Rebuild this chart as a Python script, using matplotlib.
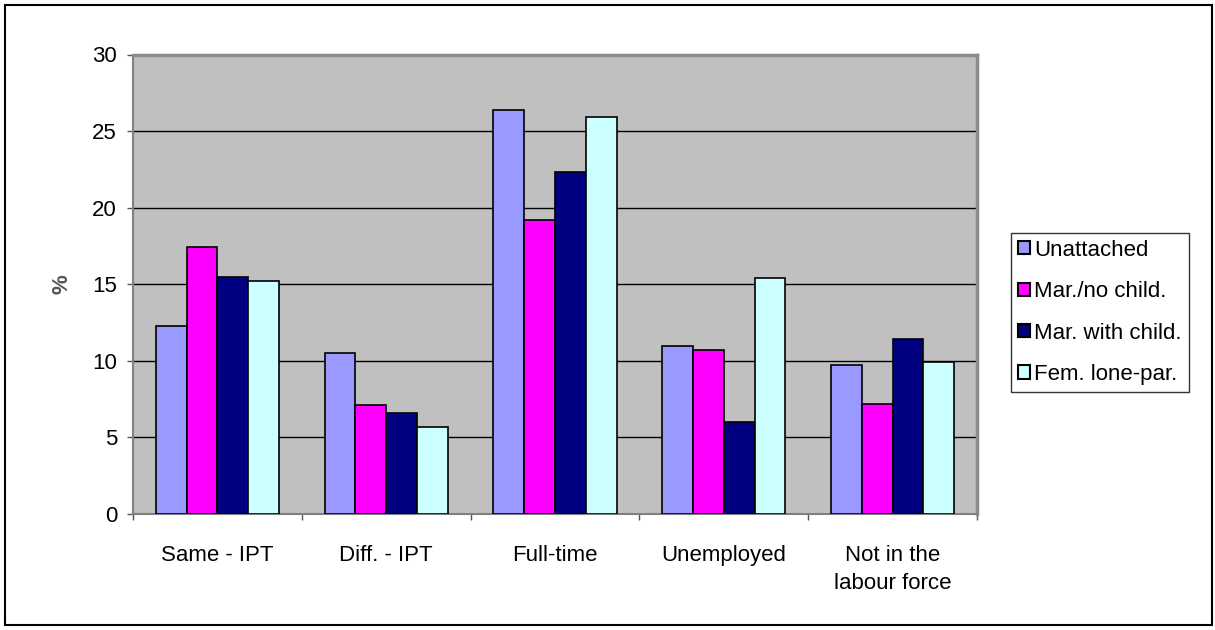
import matplotlib
matplotlib.use('Agg')
import matplotlib.pyplot as plt
import matplotlib.patches as mpatches
import numpy as np

plt.rcParams['font.family'] = ['Liberation Sans', 'DejaVu Sans']

categories = ['Same - IPT', 'Diff. - IPT', 'Full-time', 'Unemployed', 'Not in the\nlabour force']
series_names = ['Unattached', 'Mar./no child.', 'Mar. with child.', 'Fem. lone-par.']
unattached = [12.3, 10.5, 26.4, 11.0, 9.7]
mar_no_child = [17.4, 7.1, 19.2, 10.7, 7.2]
mar_with_child = [15.5, 6.6, 22.3, 6.0, 11.4]
fem_lone_par = [15.2, 5.7, 25.9, 15.4, 9.9]
series_values = [unattached, mar_no_child, mar_with_child, fem_lone_par]
colours = ['#9999FF', '#FF00FF', '#000080', '#CCFFFF']

fig = plt.figure(figsize=(12.15, 6.3), dpi=100, facecolor='white')
ax = fig.add_axes([133 / 1215, 116 / 630, 844 / 1215, 459.5 / 630])
ax.set_facecolor('#C0C0C0')

x = np.arange(len(categories))
w = 0.1826
for i, vals in enumerate(series_values):
    ax.bar(x + (i - 1.5) * w, vals, width=w, color=colours[i],
           edgecolor='black', linewidth=1.2, zorder=3)

ax.set_xlim(-0.5, len(categories) - 0.5)
ax.set_ylim(0, 30)
ax.set_yticks(range(0, 31, 5))
ax.yaxis.grid(True, color='black', linewidth=1.0, zorder=1)
ax.set_axisbelow(True)

# group boundaries get the tick marks, group centres get the labels
ax.set_xticks(np.arange(-0.5, len(categories), 1.0))
ax.set_xticklabels([])
ax.set_xticks(x, minor=True)
ax.set_xticklabels(categories, minor=True, fontsize=16, linespacing=1.45)
ax.tick_params(axis='x', which='minor', length=0, pad=22)
ax.tick_params(axis='x', which='major', length=4, width=1, color='#555555')
ax.tick_params(axis='y', length=4, width=1, color='#555555', labelsize=16, pad=7.5)
for lab in ax.get_xticklabels(minor=True):
    lab.set_verticalalignment('top')

for side in ['left', 'bottom']:
    ax.spines[side].set_color('#808080')
    ax.spines[side].set_linewidth(1.5)
for side in ['top', 'right']:
    ax.spines[side].set_color('#8C8C8C')
    ax.spines[side].set_linewidth(2.5)

fig.text(62 / 1215, 1 - 284 / 630, '%', rotation=90, ha='center', va='center',
         fontsize=16, fontweight='bold', color='#555555')

handles = [mpatches.Patch(facecolor=colours[i], edgecolor='black', linewidth=1.5,
                          label=series_names[i]) for i in range(len(series_names))]
leg = fig.legend(handles=handles, loc='upper left',
                 bbox_to_anchor=(1011 / 1215, 1 - 233 / 630),
                 fontsize=16, frameon=True, fancybox=False, edgecolor='black',
                 handlelength=0.55, handleheight=0.55, handletextpad=0.2,
                 labelspacing=0.92, borderpad=0.3, borderaxespad=0)
leg.get_frame().set_linewidth(1.0)

fig.patches.append(mpatches.Rectangle((5 / 1215, 5 / 630), 1207 / 1215, 620 / 630,
                                      transform=fig.transFigure, fill=False,
                                      edgecolor='black', linewidth=1.5))

plt.savefig('out.png', dpi=100)
plt.close()
